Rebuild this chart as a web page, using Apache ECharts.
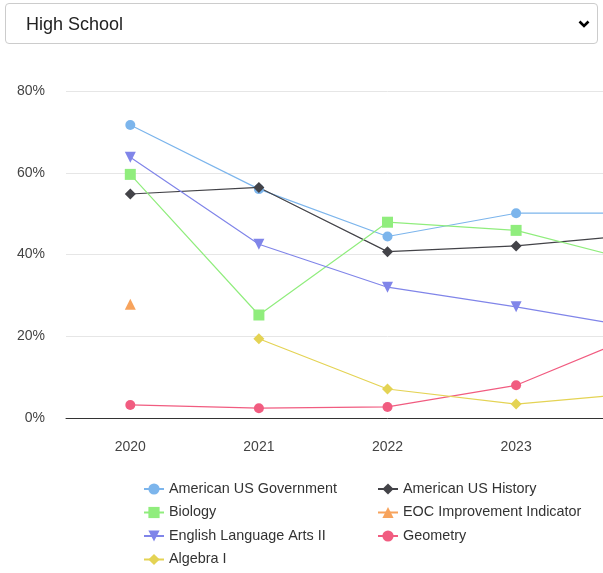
<!DOCTYPE html>
<html>
<head>
<meta charset="utf-8">
<script src="https://cdn.jsdelivr.net/npm/echarts@6/dist/echarts.min.js"></script>
<style>
html,body{margin:0;padding:0;width:603px;height:573px;overflow:hidden;background:#fff;}
#sel{position:absolute;left:5px;top:3px;width:593px;height:41px;box-sizing:border-box;border:1px solid #ccc;border-radius:4px;
font-family:"Liberation Sans",Arial,sans-serif;font-size:18px;color:#222;padding:0 0 0 20px;background:#fff;
-webkit-appearance:none;appearance:none;outline:none;
background-image:url("data:image/svg+xml;utf8,<svg xmlns='http://www.w3.org/2000/svg' width='12' height='8' viewBox='0 0 12 8'><path d='M1.5 1.5 L6 6 L10.5 1.5' fill='none' stroke='black' stroke-width='2.6'/></svg>");
background-repeat:no-repeat;background-position:right 7px center;z-index:2;}
#chart{position:absolute;left:0;top:0;width:724px;height:580px;}
</style>
</head>
<body>
<select id="sel"><option>High School</option></select>
<div id="chart"></div>
<script>
const years = ['2020','2021','2022','2023','2024'];
const yTicks = [0,20,40,60,80];
const usGov = [71.7, 56.0, 44.4, 50.1, 50.1];
const usHistory = [54.8, 56.4, 40.7, 42.1, 45.0];
const biology = [59.6, 25.2, 47.9, 45.9, 37.8];
const eoc = [27.8, null, null, null, null];
const ela2 = [63.8, 42.5, 32.0, 27.2, 21.8];
const geometry = [3.2, 2.4, 2.7, 8.0, 21.0];
const algebra1 = [null, 19.4, 7.1, 3.4, 6.2];

const names = ['American US Government','American US History','Biology','EOC Improvement Indicator','English Language Arts II','Geometry','Algebra I'];
const datas = [usGov, usHistory, biology, eoc, ela2, geometry, algebra1];
const colors = ['#7cb5ec','#434348','#90ed7d','#f7a35c','#8085e9','#f15c80','#e4d354'];
const symbols = ['circle','diamond','rect','triangle','triangle','circle','diamond'];
const sizes = [10,11,11,11,11,10,11];
const rot = [0,0,0,0,180,0,0];

const font = '"Liberation Sans", Arial, sans-serif';
const chart = echarts.init(document.getElementById('chart'));
const legendCommon = {
  orient:'vertical', top:482, height:110, padding:0, itemWidth:20, itemHeight:14, itemGap:9.5,
  textStyle:{fontFamily:font,fontSize:14.4,color:'#333'}, selectedMode:false
};
chart.setOption({
  animation:false,
  color:colors,
  grid:{left:66,right:15,top:91,bottom:162},
  xAxis:{type:'category',data:years,boundaryGap:true,
    axisLine:{lineStyle:{color:'#333',width:1}},axisTick:{show:false},
    axisLabel:{fontFamily:font,fontSize:14,color:'#444',margin:22}},
  yAxis:{type:'value',min:yTicks[0],max:yTicks[yTicks.length-1],interval:20,
    axisLine:{show:false},axisTick:{show:false},
    splitLine:{lineStyle:{color:'#e6e6e6',width:1}},
    axisLabel:{fontFamily:font,fontSize:14,color:'#444',margin:21,formatter:'{value}%'}},
  legend:[
    Object.assign({left:143,data:[names[0],names[2],names[4],names[6]]},legendCommon),
    Object.assign({left:377,data:[names[1],names[3],names[5]]},legendCommon)
  ],
  series:names.map((n,i)=>({
    name:n,type:'line',data:datas[i],symbol:symbols[i],symbolSize:sizes[i],symbolRotate:rot[i],
    showSymbol:true,connectNulls:false,lineStyle:{width:1.2,color:colors[i]},
    itemStyle:{color:colors[i]}
  }))
});
</script>
</body>
</html>
